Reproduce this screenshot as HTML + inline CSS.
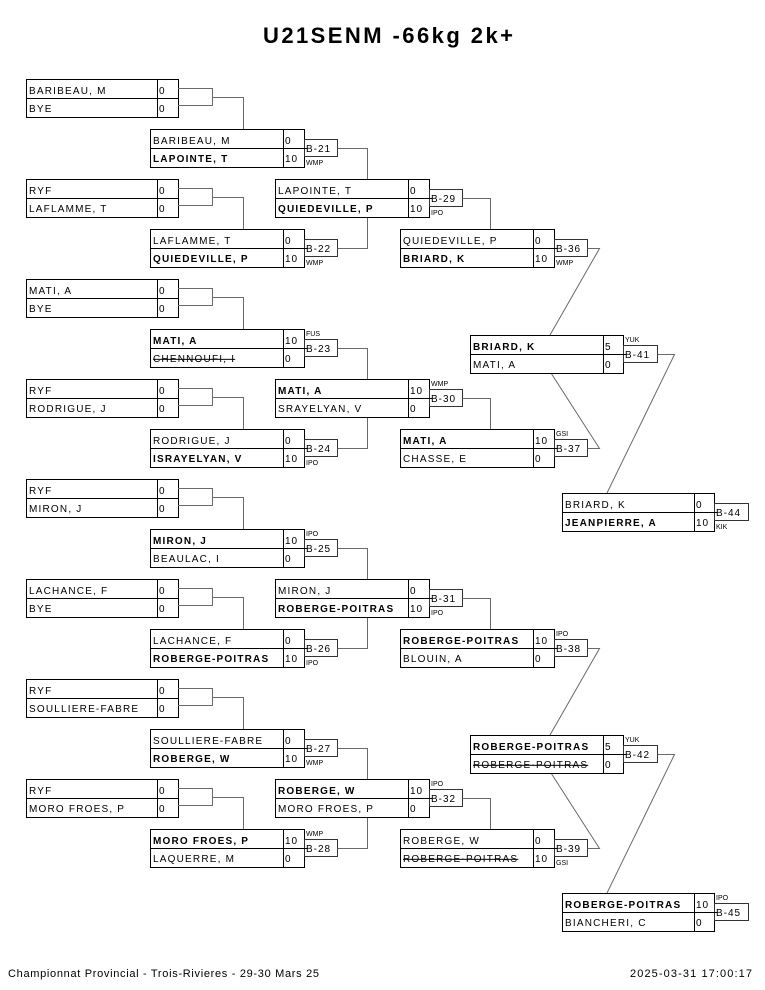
<!DOCTYPE html>
<html><head><meta charset="utf-8"><style>
html,body{margin:0;padding:0;background:#fff;}
svg{display:block;}
text{font-family:"Liberation Sans",Arial,sans-serif;fill:#000;}
.n{font-size:10px;letter-spacing:1.2px;}
.b{font-weight:bold;}
.s{text-decoration:line-through;}
.sc{font-size:10px;letter-spacing:1px;}
.bt{font-size:10px;letter-spacing:1px;}
.lb{font-size:7px;}
.bx{fill:#fff;stroke:#000;stroke-width:1;}
.ln{stroke:#000;stroke-width:1;fill:none;}
.bb{fill:#fff;stroke:#333;stroke-width:1;}
.cn{stroke:#6a6a6a;stroke-width:1;fill:none;}
</style></head><body>
<svg width="765" height="990" viewBox="0 0 765 990" xmlns="http://www.w3.org/2000/svg">
<rect x="0" y="0" width="765" height="990" fill="#fff"/>
<text x="263" y="43" font-size="22" font-weight="bold" textLength="250" lengthAdjust="spacing">U21SENM -66kg 2k+</text>

<!-- ROUND 1 -->
<g>
<rect class="bx" x="26.5" y="79.5" width="152" height="38"/><path class="ln" d="M26 98.5H178M157.5 79V117"/>
<text class="n" x="29" y="94">BARIBEAU, M</text><text class="n" x="29" y="112">BYE</text>
<text class="sc" x="159" y="94">0</text><text class="sc" x="159" y="112">0</text>
<path class="cn" d="M178 88.5H212.5V105.5H178M212.5 97.5H243.5V129"/>

<rect class="bx" x="26.5" y="179.5" width="152" height="38"/><path class="ln" d="M26 198.5H178M157.5 179V217"/>
<text class="n" x="29" y="194">RYF</text><text class="n" x="29" y="212">LAFLAMME, T</text>
<text class="sc" x="159" y="194">0</text><text class="sc" x="159" y="212">0</text>
<path class="cn" d="M178 188.5H212.5V205.5H178M212.5 197.5H243.5V229"/>

<rect class="bx" x="26.5" y="279.5" width="152" height="38"/><path class="ln" d="M26 298.5H178M157.5 279V317"/>
<text class="n" x="29" y="294">MATI, A</text><text class="n" x="29" y="312">BYE</text>
<text class="sc" x="159" y="294">0</text><text class="sc" x="159" y="312">0</text>
<path class="cn" d="M178 288.5H212.5V305.5H178M212.5 297.5H243.5V329"/>

<rect class="bx" x="26.5" y="379.5" width="152" height="38"/><path class="ln" d="M26 398.5H178M157.5 379V417"/>
<text class="n" x="29" y="394">RYF</text><text class="n" x="29" y="412">RODRIGUE, J</text>
<text class="sc" x="159" y="394">0</text><text class="sc" x="159" y="412">0</text>
<path class="cn" d="M178 388.5H212.5V405.5H178M212.5 397.5H243.5V429"/>

<rect class="bx" x="26.5" y="479.5" width="152" height="38"/><path class="ln" d="M26 498.5H178M157.5 479V517"/>
<text class="n" x="29" y="494">RYF</text><text class="n" x="29" y="512">MIRON, J</text>
<text class="sc" x="159" y="494">0</text><text class="sc" x="159" y="512">0</text>
<path class="cn" d="M178 488.5H212.5V505.5H178M212.5 497.5H243.5V529"/>

<rect class="bx" x="26.5" y="579.5" width="152" height="38"/><path class="ln" d="M26 598.5H178M157.5 579V617"/>
<text class="n" x="29" y="594">LACHANCE, F</text><text class="n" x="29" y="612">BYE</text>
<text class="sc" x="159" y="594">0</text><text class="sc" x="159" y="612">0</text>
<path class="cn" d="M178 588.5H212.5V605.5H178M212.5 597.5H243.5V629"/>

<rect class="bx" x="26.5" y="679.5" width="152" height="38"/><path class="ln" d="M26 698.5H178M157.5 679V717"/>
<text class="n" x="29" y="694">RYF</text><text class="n" x="29" y="712">SOULLIERE-FABRE</text>
<text class="sc" x="159" y="694">0</text><text class="sc" x="159" y="712">0</text>
<path class="cn" d="M178 688.5H212.5V705.5H178M212.5 697.5H243.5V729"/>

<rect class="bx" x="26.5" y="779.5" width="152" height="38"/><path class="ln" d="M26 798.5H178M157.5 779V817"/>
<text class="n" x="29" y="794">RYF</text><text class="n" x="29" y="812">MORO FROES, P</text>
<text class="sc" x="159" y="794">0</text><text class="sc" x="159" y="812">0</text>
<path class="cn" d="M178 788.5H212.5V805.5H178M212.5 797.5H243.5V829"/>
</g>

<!-- ROUND 2 -->
<g>
<rect class="bx" x="150.5" y="129.5" width="154" height="38"/><rect class="bb" x="304.5" y="139.5" width="33" height="17"/><path class="ln" d="M150 148.5H307M283.5 129V167"/>
<text class="n" x="153" y="144">BARIBEAU, M</text><text class="n b" x="153" y="162">LAPOINTE, T</text>
<text class="sc" x="285" y="144">0</text><text class="sc" x="285" y="162">10</text>
<text class="bt" x="306" y="152">B-21</text><text class="lb" x="306" y="165">WMP</text>
<path class="cn" d="M337.5 148.5H367.5V179"/>

<rect class="bx" x="150.5" y="229.5" width="154" height="38"/><rect class="bb" x="304.5" y="239.5" width="33" height="17"/><path class="ln" d="M150 248.5H307M283.5 229V267"/>
<text class="n" x="153" y="244">LAFLAMME, T</text><text class="n b" x="153" y="262">QUIEDEVILLE, P</text>
<text class="sc" x="285" y="244">0</text><text class="sc" x="285" y="262">10</text>
<text class="bt" x="306" y="252">B-22</text><text class="lb" x="306" y="265">WMP</text>
<path class="cn" d="M337.5 248.5H367.5V217"/>

<rect class="bx" x="150.5" y="329.5" width="154" height="38"/><rect class="bb" x="304.5" y="339.5" width="33" height="17"/><path class="ln" d="M150 348.5H307M283.5 329V367"/>
<text class="n b" x="153" y="344">MATI, A</text><text class="n s" x="153" y="362">CHENNOUFI, I</text>
<text class="sc" x="285" y="344">10</text><text class="sc" x="285" y="362">0</text>
<text class="bt" x="306" y="352">B-23</text><text class="lb" x="306" y="336">FUS</text>
<path class="cn" d="M337.5 348.5H367.5V379"/>

<rect class="bx" x="150.5" y="429.5" width="154" height="38"/><rect class="bb" x="304.5" y="439.5" width="33" height="17"/><path class="ln" d="M150 448.5H307M283.5 429V467"/>
<text class="n" x="153" y="444">RODRIGUE, J</text><text class="n b" x="153" y="462">ISRAYELYAN, V</text>
<text class="sc" x="285" y="444">0</text><text class="sc" x="285" y="462">10</text>
<text class="bt" x="306" y="452">B-24</text><text class="lb" x="306" y="465">IPO</text>
<path class="cn" d="M337.5 448.5H367.5V417"/>

<rect class="bx" x="150.5" y="529.5" width="154" height="38"/><rect class="bb" x="304.5" y="539.5" width="33" height="17"/><path class="ln" d="M150 548.5H307M283.5 529V567"/>
<text class="n b" x="153" y="544">MIRON, J</text><text class="n" x="153" y="562">BEAULAC, I</text>
<text class="sc" x="285" y="544">10</text><text class="sc" x="285" y="562">0</text>
<text class="bt" x="306" y="552">B-25</text><text class="lb" x="306" y="536">IPO</text>
<path class="cn" d="M337.5 548.5H367.5V579"/>

<rect class="bx" x="150.5" y="629.5" width="154" height="38"/><rect class="bb" x="304.5" y="639.5" width="33" height="17"/><path class="ln" d="M150 648.5H307M283.5 629V667"/>
<text class="n" x="153" y="644">LACHANCE, F</text><text class="n b" x="153" y="662">ROBERGE-POITRAS</text>
<text class="sc" x="285" y="644">0</text><text class="sc" x="285" y="662">10</text>
<text class="bt" x="306" y="652">B-26</text><text class="lb" x="306" y="665">IPO</text>
<path class="cn" d="M337.5 648.5H367.5V617"/>

<rect class="bx" x="150.5" y="729.5" width="154" height="38"/><rect class="bb" x="304.5" y="739.5" width="33" height="17"/><path class="ln" d="M150 748.5H307M283.5 729V767"/>
<text class="n" x="153" y="744">SOULLIERE-FABRE</text><text class="n b" x="153" y="762">ROBERGE, W</text>
<text class="sc" x="285" y="744">0</text><text class="sc" x="285" y="762">10</text>
<text class="bt" x="306" y="752">B-27</text><text class="lb" x="306" y="765">WMP</text>
<path class="cn" d="M337.5 748.5H367.5V779"/>

<rect class="bx" x="150.5" y="829.5" width="154" height="38"/><rect class="bb" x="304.5" y="839.5" width="33" height="17"/><path class="ln" d="M150 848.5H307M283.5 829V867"/>
<text class="n b" x="153" y="844">MORO FROES, P</text><text class="n" x="153" y="862">LAQUERRE, M</text>
<text class="sc" x="285" y="844">10</text><text class="sc" x="285" y="862">0</text>
<text class="bt" x="306" y="852">B-28</text><text class="lb" x="306" y="836">WMP</text>
<path class="cn" d="M337.5 848.5H367.5V817"/>
</g>

<!-- ROUND 3 -->
<g>
<rect class="bx" x="275.5" y="179.5" width="154" height="38"/><rect class="bb" x="429.5" y="189.5" width="33" height="17"/><path class="ln" d="M275 198.5H432M408.5 179V217"/>
<text class="n" x="278" y="194">LAPOINTE, T</text><text class="n b" x="278" y="212">QUIEDEVILLE, P</text>
<text class="sc" x="410" y="194">0</text><text class="sc" x="410" y="212">10</text>
<text class="bt" x="431" y="202">B-29</text><text class="lb" x="431" y="215">IPO</text>
<path class="cn" d="M462.5 198.5H490.5V229"/>

<rect class="bx" x="275.5" y="379.5" width="154" height="38"/><rect class="bb" x="429.5" y="389.5" width="33" height="17"/><path class="ln" d="M275 398.5H432M408.5 379V417"/>
<text class="n b" x="278" y="394">MATI, A</text><text class="n" x="278" y="412">SRAYELYAN, V</text>
<text class="sc" x="410" y="394">10</text><text class="sc" x="410" y="412">0</text>
<text class="bt" x="431" y="402">B-30</text><text class="lb" x="431" y="386">WMP</text>
<path class="cn" d="M462.5 398.5H490.5V429"/>

<rect class="bx" x="275.5" y="579.5" width="154" height="38"/><rect class="bb" x="429.5" y="589.5" width="33" height="17"/><path class="ln" d="M275 598.5H432M408.5 579V617"/>
<text class="n" x="278" y="594">MIRON, J</text><text class="n b" x="278" y="612">ROBERGE-POITRAS</text>
<text class="sc" x="410" y="594">0</text><text class="sc" x="410" y="612">10</text>
<text class="bt" x="431" y="602">B-31</text><text class="lb" x="431" y="615">IPO</text>
<path class="cn" d="M462.5 598.5H490.5V629"/>

<rect class="bx" x="275.5" y="779.5" width="154" height="38"/><rect class="bb" x="429.5" y="789.5" width="33" height="17"/><path class="ln" d="M275 798.5H432M408.5 779V817"/>
<text class="n b" x="278" y="794">ROBERGE, W</text><text class="n" x="278" y="812">MORO FROES, P</text>
<text class="sc" x="410" y="794">10</text><text class="sc" x="410" y="812">0</text>
<text class="bt" x="431" y="802">B-32</text><text class="lb" x="431" y="786">IPO</text>
<path class="cn" d="M462.5 798.5H490.5V829"/>
</g>

<!-- ROUND 4 -->
<g>
<rect class="bx" x="400.5" y="229.5" width="154" height="38"/><rect class="bb" x="554.5" y="239.5" width="33" height="17"/><path class="ln" d="M400 248.5H557M533.5 229V267"/>
<text class="n" x="403" y="244">QUIEDEVILLE, P</text><text class="n b" x="403" y="262">BRIARD, K</text>
<text class="sc" x="535" y="244">0</text><text class="sc" x="535" y="262">10</text>
<text class="bt" x="556" y="252">B-36</text><text class="lb" x="556" y="265">WMP</text>
<path class="cn" d="M587.5 248.5H599.5L550 335"/>

<rect class="bx" x="400.5" y="429.5" width="154" height="38"/><rect class="bb" x="554.5" y="439.5" width="33" height="17"/><path class="ln" d="M400 448.5H557M533.5 429V467"/>
<text class="n b" x="403" y="444">MATI, A</text><text class="n" x="403" y="462">CHASSE, E</text>
<text class="sc" x="535" y="444">10</text><text class="sc" x="535" y="462">0</text>
<text class="bt" x="556" y="452">B-37</text><text class="lb" x="556" y="436">GSI</text>
<path class="cn" d="M587.5 448.5H599.5L551 373"/>

<rect class="bx" x="400.5" y="629.5" width="154" height="38"/><rect class="bb" x="554.5" y="639.5" width="33" height="17"/><path class="ln" d="M400 648.5H557M533.5 629V667"/>
<text class="n b" x="403" y="644">ROBERGE-POITRAS</text><text class="n" x="403" y="662">BLOUIN, A</text>
<text class="sc" x="535" y="644">10</text><text class="sc" x="535" y="662">0</text>
<text class="bt" x="556" y="652">B-38</text><text class="lb" x="556" y="636">IPO</text>
<path class="cn" d="M587.5 648.5H599.5L550 735"/>

<rect class="bx" x="400.5" y="829.5" width="154" height="38"/><rect class="bb" x="554.5" y="839.5" width="33" height="17"/><path class="ln" d="M400 848.5H557M533.5 829V867"/>
<text class="n" x="403" y="844">ROBERGE, W</text><text class="n s" x="403" y="862">ROBERGE-POITRAS</text>
<text class="sc" x="535" y="844">0</text><text class="sc" x="535" y="862">10</text>
<text class="bt" x="556" y="852">B-39</text><text class="lb" x="556" y="865">GSI</text>
<path class="cn" d="M587.5 848.5H599.5L551 773"/>
</g>

<!-- SEMI -->
<g>
<rect class="bx" x="470.5" y="335.5" width="153" height="38"/><rect class="bb" x="623.5" y="345.5" width="34" height="17"/><path class="ln" d="M470 354.5H626M603.5 335V373"/>
<text class="n b" x="473" y="350">BRIARD, K</text><text class="n" x="473" y="368">MATI, A</text>
<text class="sc" x="605" y="350">5</text><text class="sc" x="605" y="368">0</text>
<text class="bt" x="625" y="358">B-41</text><text class="lb" x="625" y="342">YUK</text>
<path class="cn" d="M657.5 354.5H674.5L607 493"/>

<rect class="bx" x="470.5" y="735.5" width="153" height="38"/><rect class="bb" x="623.5" y="745.5" width="34" height="17"/><path class="ln" d="M470 754.5H626M603.5 735V773"/>
<text class="n b" x="473" y="750">ROBERGE-POITRAS</text><text class="n s" x="473" y="768">ROBERGE-POITRAS</text>
<text class="sc" x="605" y="750">5</text><text class="sc" x="605" y="768">0</text>
<text class="bt" x="625" y="758">B-42</text><text class="lb" x="625" y="742">YUK</text>
<path class="cn" d="M657.5 754.5H674.5L607 893"/>
</g>

<!-- FINALS -->
<g>
<rect class="bx" x="562.5" y="493.5" width="152" height="38"/><rect class="bb" x="714.5" y="503.5" width="34" height="17"/><path class="ln" d="M562 512.5H717M694.5 493V531"/>
<text class="n" x="565" y="508">BRIARD, K</text><text class="n b" x="565" y="526">JEANPIERRE, A</text>
<text class="sc" x="696" y="508">0</text><text class="sc" x="696" y="526">10</text>
<text class="bt" x="716" y="516">B-44</text><text class="lb" x="716" y="529">KIK</text>

<rect class="bx" x="562.5" y="893.5" width="152" height="38"/><rect class="bb" x="714.5" y="903.5" width="34" height="17"/><path class="ln" d="M562 912.5H717M694.5 893V931"/>
<text class="n b" x="565" y="908">ROBERGE-POITRAS</text><text class="n" x="565" y="926">BIANCHERI, C</text>
<text class="sc" x="696" y="908">10</text><text class="sc" x="696" y="926">0</text>
<text class="bt" x="716" y="916">B-45</text><text class="lb" x="716" y="900">IPO</text>
</g>

<text x="8" y="977" font-size="11" textLength="311" lengthAdjust="spacing">Championnat Provincial - Trois-Rivieres - 29-30 Mars 25</text>
<text x="630" y="977" font-size="11" textLength="122" lengthAdjust="spacing">2025-03-31 17:00:17</text>
</svg>
</body></html>
